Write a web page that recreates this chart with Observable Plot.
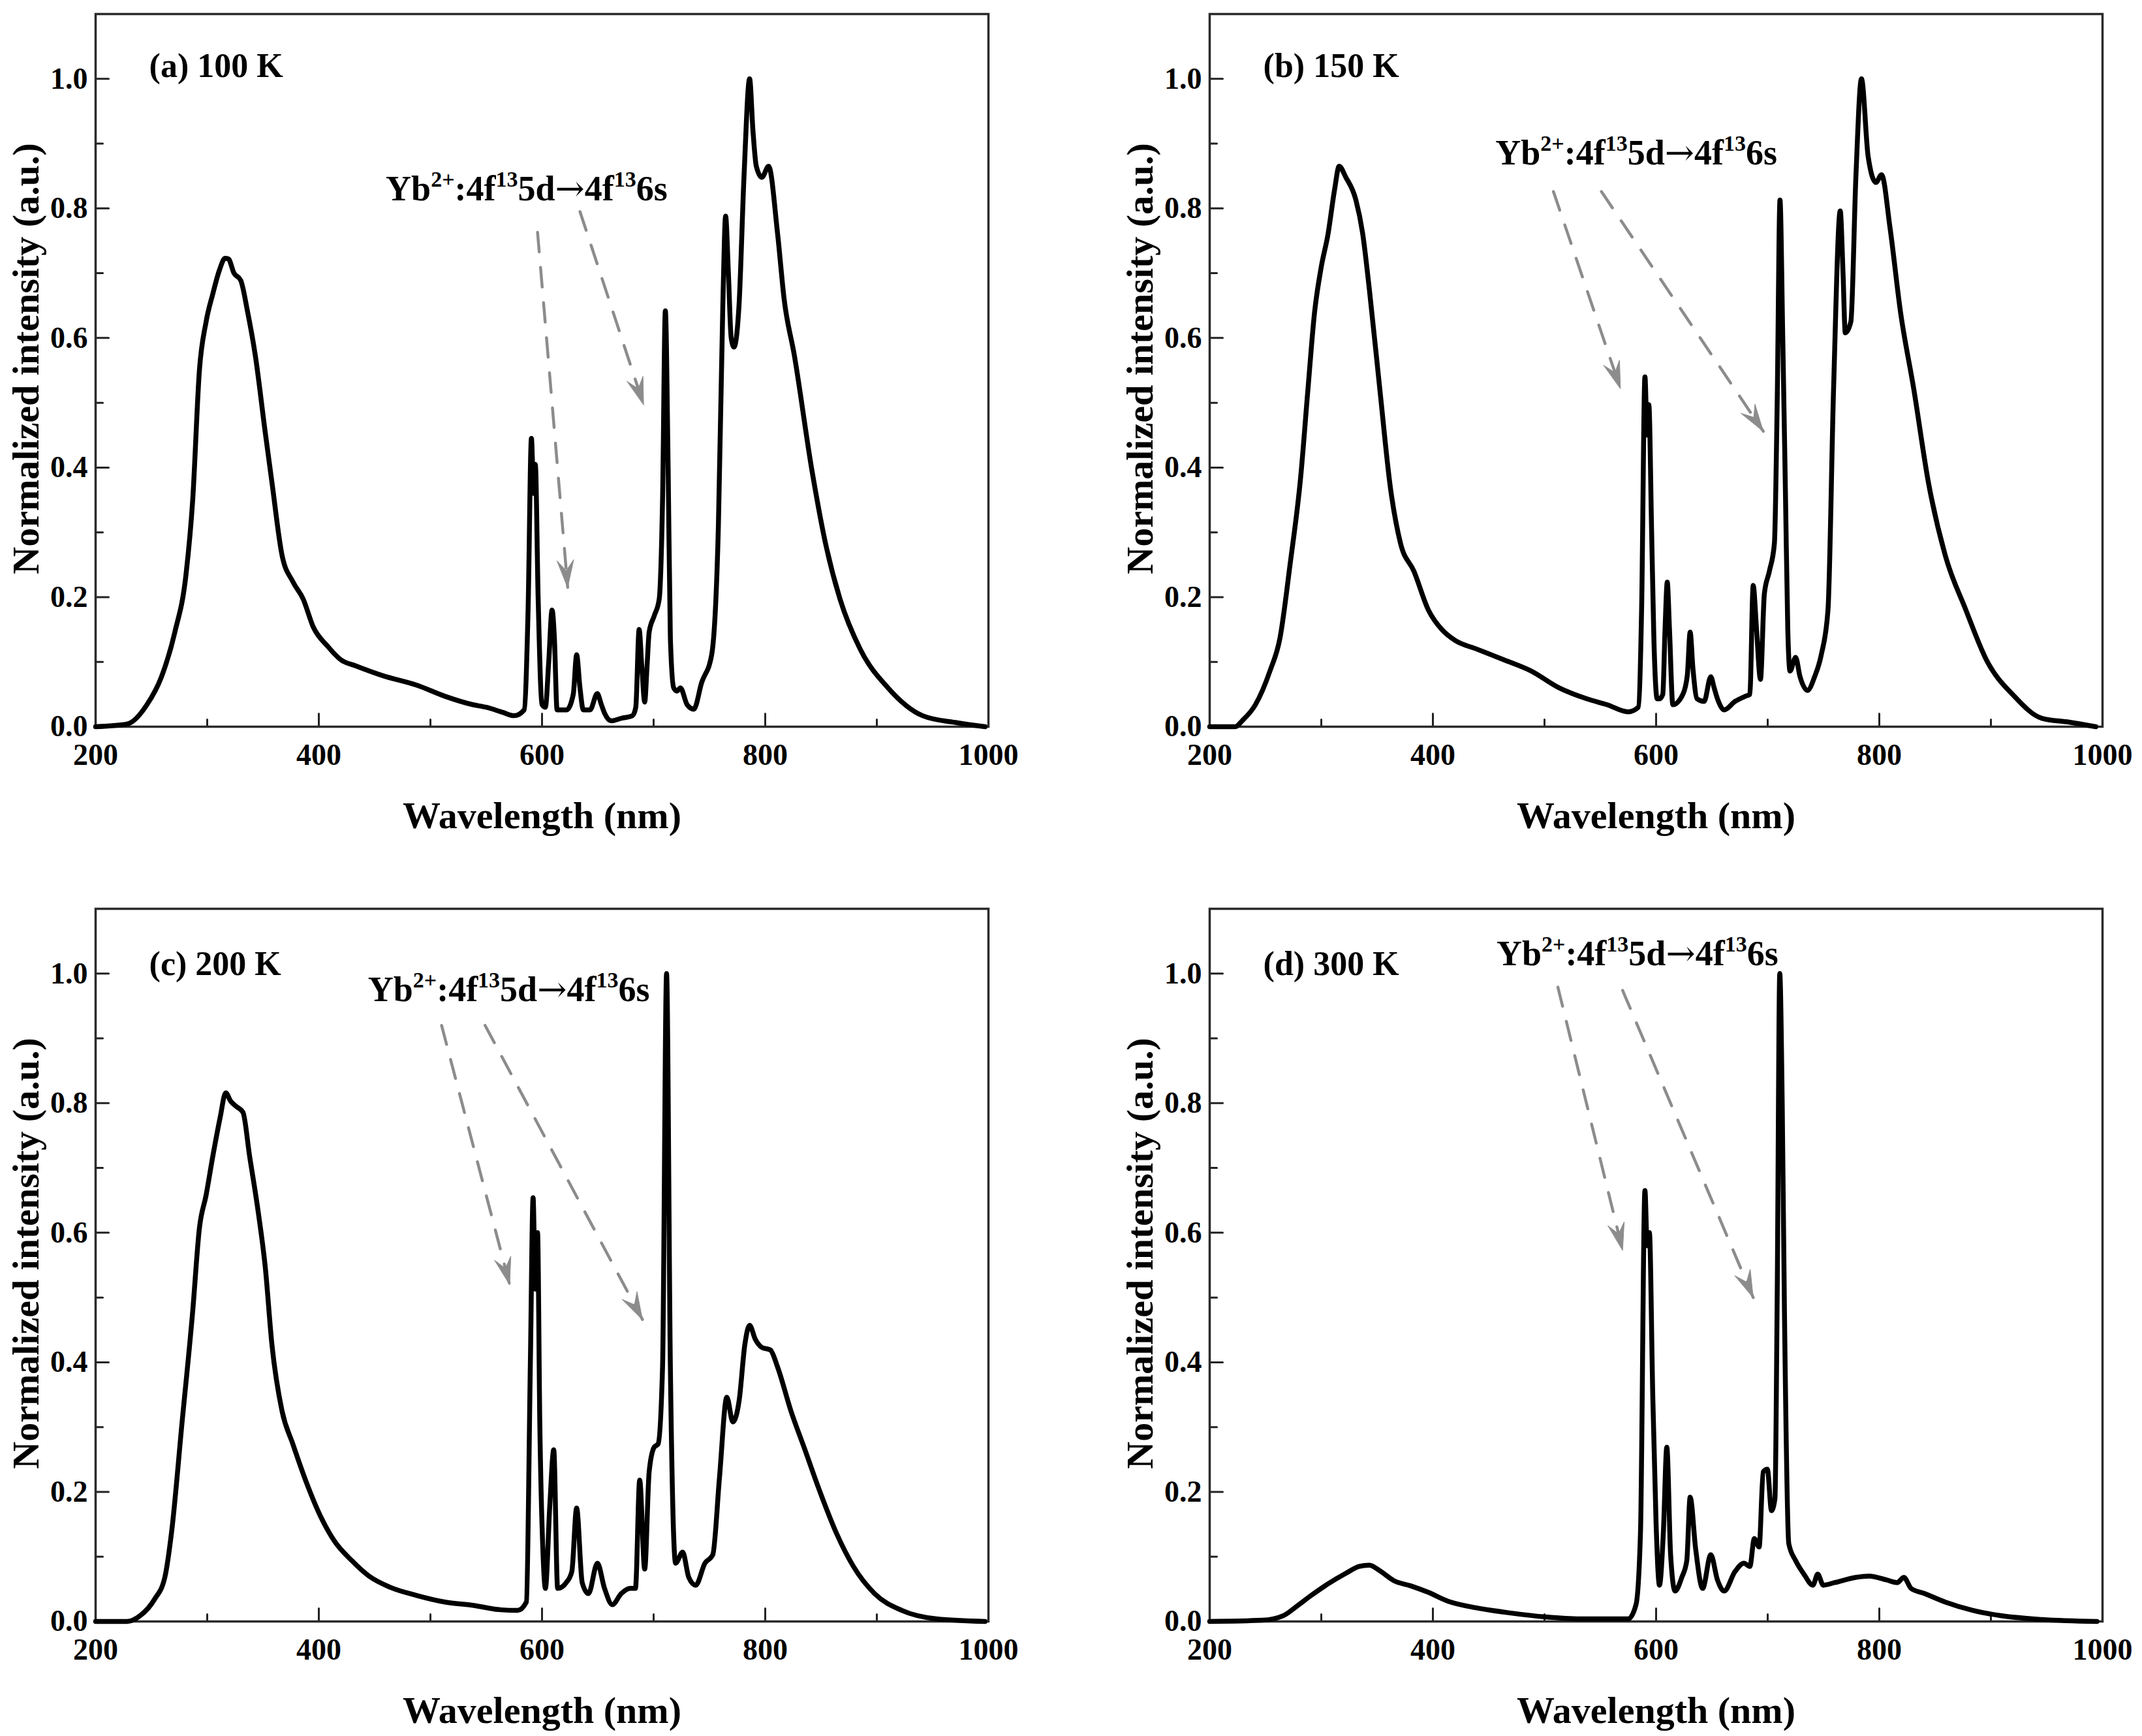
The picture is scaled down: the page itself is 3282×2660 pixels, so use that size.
<!DOCTYPE html>
<html>
<head>
<meta charset="utf-8">
<script src="https://cdn.jsdelivr.net/npm/d3@7"></script>
<script src="https://cdn.jsdelivr.net/npm/@observablehq/plot@0.6"></script>
<style>
body { margin: 0; background: #fff; }
#fig { position: relative; width: 3282px; height: 2660px; background: #fff; }
#fig > svg { position: absolute; }
</style>
</head>
<body>
<div id="fig"></div>
<script>
// ticks
const xMajor = [200, 400, 600, 800, 1000]
const xMinor = [300, 500, 700, 900]
const yMajor = [0, 0.2, 0.4, 0.6, 0.8, 1.0]
const yMinor = [0.1, 0.3, 0.5, 0.7, 0.9]

const xTitle = "Wavelength (nm)"
const yTitle = "Normalized intensity (a.u.)"
const panelLabels = ["(a) 100 K", "(b) 150 K", "(c) 200 K", "(d) 300 K"]

// (a) 100 K
const wlA = [200, 228, 246, 259, 271, 281, 287, 293, 299, 305, 311, 316, 319, 324, 330, 336, 343, 352, 358, 367, 377, 386, 395, 408, 420, 433, 457, 488, 513, 538, 550, 565, 575, 584, 587.5, 590.5, 592.5, 594, 596.5, 600, 603, 606, 609, 611, 613.5, 622, 628, 631, 634, 637, 643, 649.5, 653, 656, 662, 671, 681, 684, 687, 689.5, 692, 694, 696, 700.5, 705, 708, 710.5, 713, 715, 718, 721, 724, 730, 736, 743, 752, 758, 762, 764.5, 767, 769.5, 772, 776.5, 781, 786, 789, 792, 797, 803, 811, 817, 826, 842, 854, 867, 885, 910, 941, 972, 997]
const intA = [0, 0.004, 0.034, 0.077, 0.146, 0.235, 0.35, 0.55, 0.625, 0.668, 0.705, 0.723, 0.722, 0.70, 0.689, 0.642, 0.574, 0.454, 0.377, 0.265, 0.223, 0.197, 0.154, 0.124, 0.103, 0.094, 0.079, 0.064, 0.047, 0.034, 0.030, 0.022, 0.017, 0.026, 0.18, 0.445, 0.36, 0.405, 0.2, 0.034, 0.03, 0.1, 0.18, 0.14, 0.026, 0.026, 0.05, 0.111, 0.06, 0.026, 0.026, 0.051, 0.035, 0.021, 0.009, 0.013, 0.017, 0.03, 0.15, 0.09, 0.038, 0.09, 0.146, 0.171, 0.197, 0.35, 0.642, 0.40, 0.137, 0.06, 0.055, 0.06, 0.034, 0.027, 0.068, 0.111, 0.308, 0.65, 0.788, 0.70, 0.6, 0.586, 0.65, 0.85, 1.0, 0.92, 0.865, 0.848, 0.865, 0.762, 0.659, 0.574, 0.394, 0.283, 0.197, 0.12, 0.06, 0.017, 0.006, 0]

// (b) 150 K
const wlB = [200, 223, 229, 241, 254, 263, 272, 281.5, 288, 294, 300, 306, 312, 316, 322, 331, 337, 343, 352.5, 362, 371, 383, 396, 408, 420, 439, 464, 488, 513, 538, 556, 575, 584, 587, 590, 592, 593.5, 596, 598, 601, 603, 606, 608, 610, 612, 615, 624, 628, 630.5, 633, 636.7, 643, 649, 652, 655, 661, 670.7, 680, 684, 687, 690, 693.5, 697, 701.5, 706, 708.5, 711, 713.5, 716, 718, 720, 725, 729, 735.6, 742, 748, 754, 759, 765, 767.5, 769.5, 774.5, 779, 784, 790, 797, 802, 809.6, 819, 831, 844, 859, 877.6, 896, 921, 945.6, 970, 994]
const intB = [0, 0, 0.009, 0.034, 0.086, 0.137, 0.25, 0.385, 0.52, 0.64, 0.71, 0.76, 0.83, 0.865, 0.848, 0.813, 0.762, 0.676, 0.52, 0.368, 0.283, 0.24, 0.18, 0.15, 0.133, 0.12, 0.103, 0.086, 0.06, 0.043, 0.034, 0.023, 0.03, 0.18, 0.54, 0.45, 0.497, 0.3, 0.137, 0.043, 0.043, 0.05, 0.15, 0.223, 0.15, 0.034, 0.05, 0.08, 0.146, 0.09, 0.043, 0.039, 0.077, 0.06, 0.043, 0.026, 0.039, 0.047, 0.05, 0.218, 0.15, 0.073, 0.205, 0.24, 0.283, 0.5, 0.813, 0.6, 0.35, 0.15, 0.086, 0.107, 0.077, 0.056, 0.077, 0.111, 0.18, 0.52, 0.796, 0.7, 0.608, 0.625, 0.848, 1.0, 0.88, 0.84, 0.852, 0.77, 0.64, 0.52, 0.377, 0.265, 0.18, 0.103, 0.047, 0.013, 0.007, 0]

// (c) 200 K
const wlC = [200, 228, 240, 252.7, 262, 268, 277.5, 287, 293, 299, 305, 311.6, 316.6, 321, 326, 332, 338, 345.7, 352, 358, 367, 376.7, 389, 401.6, 414, 429.5, 445, 463.6, 488, 513, 538, 563, 578, 586, 589.5, 592, 594, 596, 598, 601, 603, 607, 610.5, 614, 621.7, 626.7, 631, 636, 641.6, 649.6, 656, 663, 671, 679, 683.7, 687.5, 692, 696, 700.5, 704, 708, 711.6, 715, 719.7, 726, 731.5, 737.7, 746, 753, 759, 765.6, 771, 776.7, 781.7, 786, 791, 797, 804.6, 811, 823, 835.6, 848, 863.6, 879, 898, 922.5, 953.5, 997]
const intC = [0, 0, 0.009, 0.034, 0.068, 0.137, 0.308, 0.479, 0.607, 0.658, 0.718, 0.778, 0.816, 0.803, 0.795, 0.786, 0.718, 0.632, 0.547, 0.427, 0.325, 0.274, 0.214, 0.162, 0.124, 0.094, 0.07, 0.053, 0.04, 0.03, 0.025, 0.018, 0.017, 0.03, 0.393, 0.654, 0.513, 0.6, 0.308, 0.1, 0.051, 0.18, 0.265, 0.051, 0.06, 0.077, 0.175, 0.06, 0.043, 0.09, 0.051, 0.026, 0.043, 0.051, 0.051, 0.218, 0.081, 0.231, 0.269, 0.274, 0.393, 1.0, 0.393, 0.09, 0.107, 0.068, 0.056, 0.09, 0.103, 0.222, 0.346, 0.308, 0.342, 0.427, 0.457, 0.436, 0.423, 0.419, 0.393, 0.325, 0.265, 0.205, 0.137, 0.085, 0.043, 0.017, 0.004, 0]

// (d) 300 K
const wlD = [200, 247.6, 266, 278.4, 290.8, 306, 321.7, 334, 343, 352.6, 365, 380, 395.8, 414, 439, 470, 500.8, 531.7, 562.6, 575, 582, 586, 590, 592, 594, 597, 600, 603, 606.5, 609.6, 613, 617, 623, 627.5, 630.5, 635.5, 641.7, 649, 655, 661, 670.7, 678.7, 684, 688, 692.3, 696, 699.7, 703.4, 706.5, 708.5, 710.8, 713, 715, 718.9, 725, 732.5, 740.5, 744.8, 749.8, 760, 778.8, 791, 806.6, 816, 822, 828.5, 840.6, 859, 884, 908.5, 945.6, 995]
const intD = [0, 0.002, 0.009, 0.024, 0.04, 0.058, 0.074, 0.085, 0.087, 0.078, 0.063, 0.055, 0.045, 0.031, 0.021, 0.013, 0.007, 0.004, 0.004, 0.004, 0.026, 0.137, 0.665, 0.58, 0.6, 0.35, 0.15, 0.056, 0.137, 0.269, 0.103, 0.047, 0.068, 0.094, 0.192, 0.111, 0.051, 0.103, 0.064, 0.047, 0.077, 0.09, 0.085, 0.128, 0.115, 0.231, 0.235, 0.171, 0.19, 0.5, 1.0, 0.8, 0.479, 0.12, 0.094, 0.073, 0.056, 0.073, 0.056, 0.06, 0.068, 0.07, 0.064, 0.06, 0.068, 0.051, 0.043, 0.03, 0.017, 0.009, 0.003, 0]

// annotation text, in pieces: [text, superscript?, font override]
const annPieces = [["Yb", false], ["2+", true], [":4f", false], ["13", true], ["5d", false], ["\u2192", false, "DejaVu Serif"], ["4f", false], ["13", true], ["6s", false]]
const annText = annPieces.map(d => d[0]).join("")
// annotation positions per panel (wavelength, intensity)
const annX = [460, 456, 444, 457]
const annY = [0.83, 0.885, 0.975, 1.03]
const labelX = [248, 248, 248, 248]
const labelY = [1.02, 1.02, 1.015, 1.015]

// dashed arrows per panel: [x1, y1, x2, y2]
const arrowsA = [[596, 0.763, 623, 0.215], [634, 0.795, 691, 0.497]]
const arrowsB = [[508, 0.826, 568, 0.522], [551, 0.826, 696, 0.456]]
const arrowsC = [[510, 0.92, 571, 0.52], [549, 0.92, 690, 0.466]]
const arrowsD = [[512, 0.979, 570, 0.573], [570, 0.974, 687, 0.5]]

const panels = [
   {wl: wlA, val: intA, arrows: arrowsA, left: 0, top: 0},
   {wl: wlB, val: intB, arrows: arrowsB, left: 1707, top: 0},
   {wl: wlC, val: intC, arrows: arrowsC, left: 0, top: 1371},
   {wl: wlD, val: intD, arrows: arrowsD, left: 1707, top: 1371}
]

const FONT = "'Liberation Serif', 'Times New Roman', 'DejaVu Serif', serif"
const ARROW_GRAY = "#8c8c8c"
const fig = document.querySelector("#fig")

// straight tick line for Plot.vector
const tickShape = {draw(context, l) { context.moveTo(0, 0); context.lineTo(0, -l) }}

panels.forEach((p, i) => {
   const data = p.wl.map((w, j) => ({w: w, v: p.val[j]}))
   const arrows = p.arrows.map(a => ({x1: a[0], y1: a[1], x2: a[2], y2: a[3]}))

   const chart = Plot.plot({
      width: 1574,
      height: 1283,
      marginLeft: 146,
      marginRight: 60,
      marginTop: 21,
      marginBottom: 170,
      style: {fontFamily: FONT, fontWeight: "bold", background: "white", color: "black"},
      x: {domain: [200, 1000]},
      y: {domain: [0, 1.1]},
      marks: [
         Plot.axisX(xMajor, {tickSize: 0, tickPadding: 26, fontSize: 46, label: null, tickFormat: d => String(d)}),
         Plot.axisY(yMajor, {tickSize: 0, tickPadding: 12, fontSize: 46, label: null, tickFormat: d3.format(".1f")}),
         // inward ticks
         Plot.vector(xMajor, {x: d => d, y: 0, length: 20, rotate: 0, anchor: "start", shape: tickShape, stroke: "#222", strokeWidth: 3}),
         Plot.vector(xMinor, {x: d => d, y: 0, length: 11, rotate: 0, anchor: "start", shape: tickShape, stroke: "#222", strokeWidth: 3}),
         Plot.vector(yMajor, {x: 200, y: d => d, length: 20, rotate: 90, anchor: "start", shape: tickShape, stroke: "#222", strokeWidth: 3}),
         Plot.vector(yMinor, {x: 200, y: d => d, length: 11, rotate: 90, anchor: "start", shape: tickShape, stroke: "#222", strokeWidth: 3}),
         Plot.frame({stroke: "#2a2a2a", strokeWidth: 3.5}),
         Plot.line(data, {x: "w", y: "v", stroke: "black", strokeWidth: 7.5, curve: "monotone-x", strokeLinejoin: "round"}),
         Plot.arrow(arrows, {x1: "x1", y1: "y1", x2: "x2", y2: "y2", stroke: ARROW_GRAY, strokeWidth: 4.5, strokeDasharray: "30,24", headLength: 14.5, headAngle: 34}),
         Plot.text([panelLabels[i]], {x: labelX[i], y: labelY[i], textAnchor: "start", fontSize: 52, fill: "black"}),
         Plot.text([annText], {x: annX[i], y: annY[i], textAnchor: "start", fontSize: 54, fill: "black"}),
         Plot.text([xTitle], {frameAnchor: "bottom", lineAnchor: "middle", dy: 137, fontSize: 58, fill: "black"}),
         Plot.text([yTitle], {frameAnchor: "left", textAnchor: "middle", lineAnchor: "middle", dx: -106, dy: -18, rotate: -90, fontSize: 58, fill: "black"})
      ]
   })

   // rebuild the annotation with real superscripts
   for (const t of chart.querySelectorAll("text")) {
      if (t.textContent === annText) {
         t.textContent = ""
         let raised = false
         for (const [s, sup, font] of annPieces) {
            const ts = document.createElementNS("http://www.w3.org/2000/svg", "tspan")
            ts.textContent = s
            if (font) {
               ts.setAttribute("font-family", font)
               ts.setAttribute("font-weight", "normal")
            }
            if (sup) {
               ts.setAttribute("font-size", 34)
               ts.setAttribute("dy", raised ? 0 : -21)
               raised = true
            } else if (raised) {
               ts.setAttribute("dy", 21)
               raised = false
            }
            t.append(ts)
         }
      }
   }

   // dashed shaft, solid filled (stealth) head
   for (const path of chart.querySelectorAll('g[aria-label="arrow"] path')) {
      const d = path.getAttribute("d")
      const k = d.indexOf("M", 1)
      if (k < 0) continue
      const n = d.slice(k).match(/-?\d*\.?\d+(?:e[-+]?\d+)?/g).map(Number)
      if (n.length < 6) continue
      const [ax, ay, tx, ty, cx, cy] = n
      const mx = tx + 0.62 * ((ax + cx) / 2 - tx)
      const my = ty + 0.62 * ((ay + cy) / 2 - ty)
      path.setAttribute("d", d.slice(0, k))
      const head = document.createElementNS("http://www.w3.org/2000/svg", "path")
      head.setAttribute("d", `M${tx},${ty}L${ax},${ay}L${mx},${my}L${cx},${cy}Z`)
      head.setAttribute("fill", ARROW_GRAY)
      head.setAttribute("stroke", ARROW_GRAY)
      head.setAttribute("stroke-width", 1)
      head.setAttribute("stroke-dasharray", "none")
      path.parentNode.append(head)
   }

   chart.style.left = p.left + "px"
   chart.style.top = p.top + "px"
   fig.append(chart)
})
</script>
</body>
</html>
